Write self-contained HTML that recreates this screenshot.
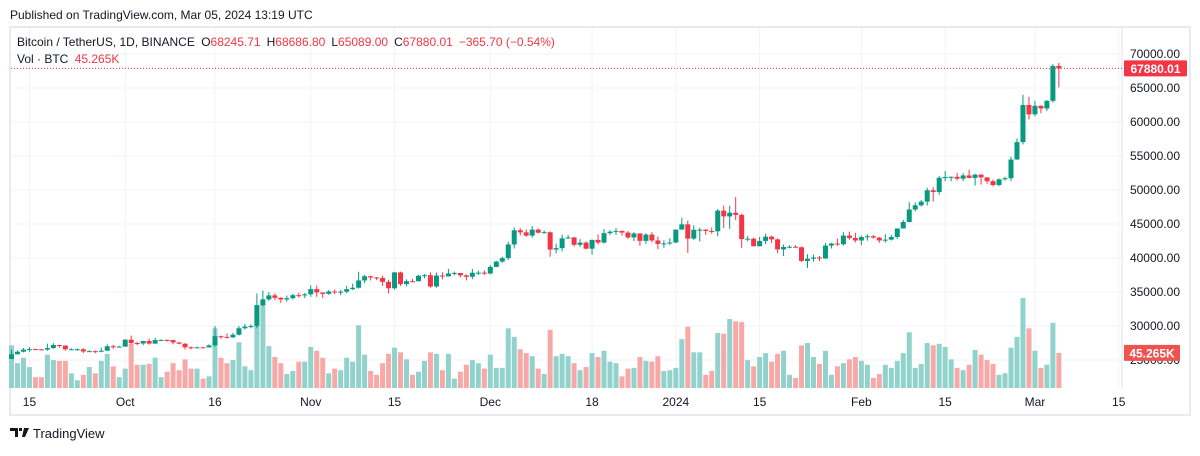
<!DOCTYPE html>
<html><head><meta charset="utf-8">
<style>
body{margin:0;background:#fff;width:1200px;height:451px;overflow:hidden;font-family:"Liberation Sans",sans-serif;}
svg text{font-family:"Liberation Sans",sans-serif;}
</style></head>
<body>
<svg id="chart" width="1200" height="451" xmlns="http://www.w3.org/2000/svg">
<text x="10" y="19" font-size="12" fill="#131722">Published on TradingView.com, Mar 05, 2024 13:19 UTC</text>
<rect x="10" y="27" width="1180" height="388" fill="#fff" stroke="#e9eaef" stroke-width="2"/>
<g id="grid"></g>
<g id="vol"></g>
<g id="candles"></g>
<line x1="1122" y1="28" x2="1122" y2="388" stroke="#e0e3eb" stroke-width="1"/>
<g id="yaxis"></g>
<g id="xaxis"></g>
<g font-size="12">
<text x="17" y="46" fill="#131722">Bitcoin / TetherUS, 1D, BINANCE <tspan dx="3">O</tspan><tspan fill="#f23645">68245.71</tspan><tspan dx="6">H</tspan><tspan fill="#f23645">68686.80</tspan><tspan dx="6">L</tspan><tspan fill="#f23645">65089.00</tspan><tspan dx="6">C</tspan><tspan fill="#f23645">67880.01</tspan><tspan dx="6" fill="#f23645">−365.70 (−0.54%)</tspan></text>
<text x="17" y="63" fill="#131722">Vol · BTC <tspan dx="3" fill="#f23645">45.265K</tspan></text>
</g>
<g>
<path d="M10 428h8v9h-3v-6h-5z M19 428h3v3h-3z M24 428h5l-4 9h-3z" fill="#131722"/>
<text x="33" y="438" font-size="13" fill="#131722">TradingView</text>
</g>
</svg>
<script>
const closes=[25840,26220,26530,26600,26570,26530,26760,27210,27130,26570,26580,26580,26250,26300,26220,26370,27020,26910,26970,
27990,27500,27430,27790,27410,27930,27950,27920,27590,27390,26870,26760,26860,26850,27150,28500,28410,28330,28720,29670,29910,29990,33080,33920,34500,34150,33900,34090,34530,34500,34660,
35420,34940,34730,35080,35040,35050,35420,35630,36700,37320,37140,37070,36490,35550,37880,36160,36590,36580,37390,37470,35810,37420,37290,37720,37800,37450,37240,37830,37850,37710,
38690,39470,39980,41990,44080,43770,43290,44170,43720,43790,41240,41450,42890,43020,41940,42260,41370,42660,42270,43650,43870,43990,43740,43020,43610,42520,43440,42580,42070,42140,42280,
44180,44950,42850,44150,44160,43970,43930,46970,46120,46660,46340,42780,42840,41730,42510,43140,42740,41260,41620,41660,41580,39570,39900,40080,39930,41820,42120,42030,43300,42940,42580,
43080,43190,42990,42580,42700,43090,44340,45290,47130,47750,48290,49960,49700,51800,51910,51940,51660,52140,51780,52260,51850,51300,50730,51570,51730,54480,57040,62500,61130,
62390,61990,63110,68245.71,67880.01];
const firstOpen=25160;
const highs=[26540,26400,26770,26890,26670,26630,27410,27490,27170,27150,26740,26720,26740,26430,26400,26830,27300,27230,27090,
28070,28590,27670,27830,28120,28270,28040,28000,27980,27500,27480,27000,26980,26950,27300,30000,28600,28900,29000,30000,30300,30250,34800,35200,35000,34800,34240,34480,34750,34880,34850,
35980,35950,34920,35280,35380,35300,35900,36200,37980,37520,37400,37200,37400,36800,37980,38000,36850,36900,37500,37650,37880,37850,37890,38420,38000,37650,37600,38400,38150,38180,
38950,39600,40200,42400,44500,44400,44200,44700,44350,44050,43900,42100,43450,43400,43100,42780,42450,42730,43450,44240,44100,44400,44000,43950,43800,43620,43660,43800,43150,42600,42900,
44190,45900,45500,44800,44450,44250,44500,47200,47700,47700,48970,46500,43250,43000,43100,43580,43300,42900,42000,41870,41870,41700,40550,40480,40280,42200,42230,42840,43800,43880,43700,
43290,43500,43380,43120,43500,43400,44380,45600,48200,48180,48550,50330,50400,52080,52800,52000,52500,52480,52980,52400,52350,51880,51550,51700,51960,54900,57580,64000,63680,
63120,62440,63230,68500,68686.8];
const lows=[25130,25800,26130,26220,26450,26410,26370,26650,26800,26380,26470,26370,26010,26200,26000,26140,26330,26660,26880,
26950,27300,27160,27210,27250,27380,27860,27700,27300,27300,26550,26560,26800,26810,26830,26970,28100,28150,28250,28600,29480,29660,29660,32880,33700,33800,33400,33600,33900,34180,34100,
34300,34300,34100,34580,34680,34520,34800,35280,35500,36300,36700,36750,35900,34800,35360,35900,35850,36450,36600,37000,35630,35630,36860,37380,37450,37150,36700,36880,37500,37500,
37600,38650,39300,39700,41400,43330,43100,43000,43600,43600,40200,40680,40980,42800,41680,41630,41250,40500,42000,42110,43400,43400,43300,42820,42500,41800,42100,42300,41300,41500,41900,
42180,44150,40750,42620,42450,43400,43580,43180,44400,44300,45600,41500,42450,41720,41700,42050,42200,40700,40300,41430,41500,39430,38550,39480,39550,39850,41400,41800,41830,42680,42280,
41880,42550,42880,42250,42260,42580,42800,44350,45240,46870,47550,47710,48300,49300,51280,51270,51390,51320,51700,50650,50800,50920,50530,50560,51390,51300,54440,56700,60380,
60840,61300,61600,62860,65089];
const volumesK=[55,32,39,27,14,14,43,36,35,35,19,10,17,27,19,35,44,28,14,25,57,30,30,31,39,14,21,32,23,37,25,25,12,15,77,39,32,36,59,28,23,80,108,54,40,32,18,22,34,34,53,48,39,19,25,23,39,34,81,
43,22,17,32,44,52,46,37,17,21,35,46,44,23,44,12,21,30,36,32,25,43,26,26,77,66,50,45,41,25,18,75,41,44,41,32,23,27,45,40,48,34,32,15,25,26,40,35,34,41,22,23,26,63,79,46,46,17,22,71,
70,89,86,85,36,28,40,45,34,44,48,17,13,55,58,40,31,48,17,28,32,37,40,35,30,13,18,30,26,35,45,72,26,31,58,55,57,53,37,26,23,30,49,43,36,31,17,19,52,66,116,77,48,26,30,84,45.265];
const yTicks=[70000,65000,60000,55000,50000,45000,40000,35000,30000,25000];
const xTickIdx=[3,19,34,50,64,80,97,111,125,142,156,171,185];
const xTickLabels=["15","Oct","16","Nov","15","Dec","18","2024","15","Feb","15","Mar","15"];
const lastPrice=67880.01, lastVolLabel="45.265K";

const NS="http://www.w3.org/2000/svg";
const X=i=>11.5+i*5.985;
const Y=p=>54+(70000-p)*34/5000;
const VY=v=>388-v/1.29;
function mk(tag,attrs,parent){const e=document.createElementNS(NS,tag);for(const k in attrs)e.setAttribute(k,attrs[k]);parent.appendChild(e);return e;}
const grid=document.getElementById('grid'),vol=document.getElementById('vol'),cg=document.getElementById('candles'),ya=document.getElementById('yaxis'),xa=document.getElementById('xaxis'),svg=document.getElementById('chart');
yTicks.forEach(t=>{
  const l=mk('line',{x1:11,x2:1122,y1:Y(t),y2:Y(t),stroke:'#f0f3fa','stroke-width':1},grid);
  
  
  const tx=mk('text',{x:1180,y:Y(t)+4,'font-size':12,fill:'#131722','text-anchor':'end'},ya);
  tx.textContent=t.toFixed(2);
  
  
});
xTickIdx.forEach((idx,k)=>{
  const l=mk('line',{x1:X(idx),x2:X(idx),y1:28,y2:388,stroke:'#f0f3fa','stroke-width':1},grid);
  
  
  const tx=mk('text',{x:X(idx),y:406,'font-size':12,fill:'#131722','text-anchor':'middle'},xa);
  tx.textContent=xTickLabels[k];
  
  
});
closes.forEach((c,i)=>{
  const o=i===0?firstOpen:closes[i-1];
  const up=c>=o;
  const x=X(i);
  const v=volumesK[i];
  const vb=mk('rect',{x:x-2.5,y:VY(v),width:5,height:388-VY(v),fill:up?'#92d2cc':'#f7a9a7'},vol);
  
  
  const col=up?'#089981':'#f23645';
  const h=highs[i]!==undefined?highs[i]:Math.max(o,c), lo=lows[i]!==undefined?lows[i]:Math.min(o,c);
  const w=mk('line',{x1:x,x2:x,y1:Y(h),y2:Y(lo),stroke:col,'stroke-width':1},cg);
  
  
  const top=Y(Math.max(o,c)), bh=Math.max(1,Math.abs(Y(o)-Y(c)));
  const b=mk('rect',{x:x-2.5,y:top,width:5,height:bh,fill:col},cg);
  
  
});
const pl=mk('line',{x1:11,x2:1122,y1:Y(lastPrice),y2:Y(lastPrice),stroke:'#f23645','stroke-width':1,'stroke-dasharray':'1 2'},svg);


const pb=mk('rect',{x:1124,y:Y(lastPrice)-8,width:63,height:16,fill:'#f23645',rx:1},svg);


const pt=mk('text',{x:1155.5,y:Y(lastPrice)+4.5,'font-size':12,'font-weight':'bold',fill:'#fff','text-anchor':'middle'},svg);
pt.textContent=lastPrice.toFixed(2);


const lv=volumesK[volumesK.length-1];
const vbb=mk('rect',{x:1124,y:VY(lv)-8,width:56,height:16,fill:'#ef5350',rx:1},svg);


const vt=mk('text',{x:1152,y:VY(lv)+4.5,'font-size':12,'font-weight':'bold',fill:'#fff','text-anchor':'middle'},svg);
vt.textContent=lastVolLabel;


</script>
</body></html>
